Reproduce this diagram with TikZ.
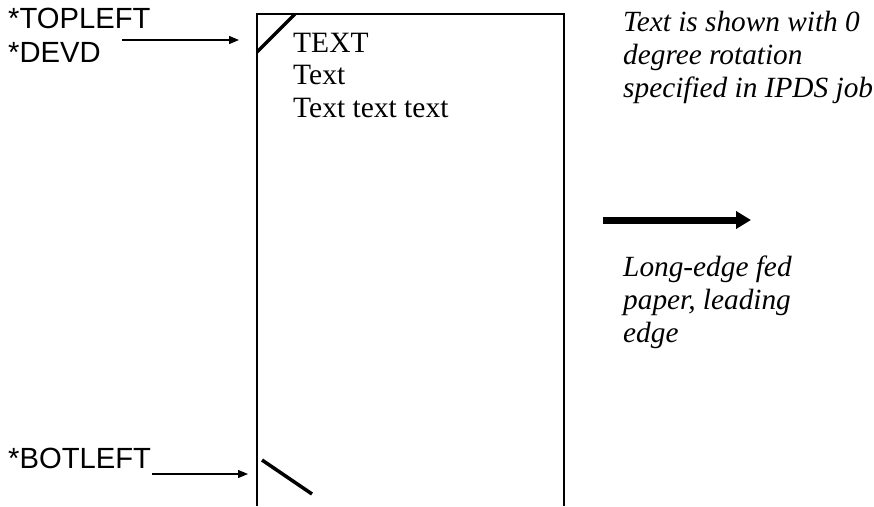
\documentclass[tikz,border=0pt]{standalone}
\usepackage{fontspec}
\setmainfont{Liberation Serif}
\setsansfont{Liberation Sans}
\usetikzlibrary{arrows.meta}
\tikzset{
  lbl/.style={font=\sffamily\fontsize{29.2}{33}\selectfont, anchor=base west, inner sep=0pt},
  body/.style={font=\fontsize{29.5}{32}\selectfont, anchor=base west, inner sep=0pt},
  note/.style={font=\itshape\fontsize{29.3}{33}\selectfont, anchor=base west, inner sep=0pt},
  pointer/.style={line width=1.3pt, -{Triangle[length=10pt,width=8pt]}},
  feed/.style={line width=7pt, -{Triangle[length=15pt,width=17pt]}},
  corner/.style={line width=3.5pt},
  page/.style={line width=1.5pt}
}
\begin{document}
\begin{tikzpicture}[x=1pt,y=-1pt]
\useasboundingbox (0,0) rectangle (874,506);
% page outline (open at bottom)
\draw[page] (257,506) -- (257,14) -- (564,14) -- (564,506);
% corner marks
\coordinate (tl1) at (257,52);
\coordinate (tl2) at (295,14);
\draw[corner] (tl1) -- (tl2);
\coordinate (bl1) at (262,460);
\coordinate (bl2) at (312,494);
\draw[corner] (bl1) -- (bl2);
% left labels
\node[lbl] (topleft) at (8,28) {*TOPLEFT};
\node[lbl] (devd) at (8,62) {*DEVD};
\node[lbl] (botleft) at (8,468) {*BOTLEFT};
\coordinate (a1s) at (122,40);
\coordinate (a1e) at (239,40);
\draw[pointer] (a1s) -- (a1e);
\coordinate (a2s) at (152,474);
\coordinate (a2e) at (248,474);
\draw[pointer] (a2s) -- (a2e);
% body text
\node[body] (t1) at (293,52) {TEXT};
\node[body] (t2) at (293,84) {Text};
\node[body] (t3) at (293,117) {Text text text};
% notes
\node[note] (n1) at (623,31) {Text is shown with 0};
\node[note] (n2) at (623,64) {degree rotation};
\node[note] (n3) at (623,97) {specified in IPDS job};
\node[note] (m1) at (623,276) {Long-edge fed};
\node[note] (m2) at (623,309) {paper, leading};
\node[note] (m3) at (623,342) {edge};
% feed direction arrow
\coordinate (fs) at (603,220);
\coordinate (fe) at (751,220);
\draw[feed] (fs) -- (fe);
\end{tikzpicture}
\end{document}
